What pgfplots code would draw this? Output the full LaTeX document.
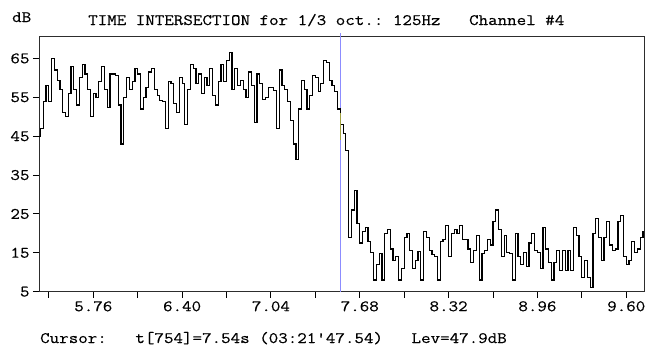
\documentclass[border=0pt]{standalone}
\usepackage{fontspec}
\setmonofont{Latin Modern Mono}[FakeStretch=1.16, FakeBold=0.4]
\usepackage{pgfplots}
\usepackage{pgfplotstable}
\pgfplotsset{compat=1.18}
\definecolor{cursorc}{RGB}{140,140,255}
\definecolor{olivec}{RGB}{160,160,64}
\definecolor{framec}{RGB}{45,45,45}
\newcommand\mono{\ttfamily\fontsize{16}{18}\selectfont}
\pgfplotstableread{
t v
5.37 45
5.38 47
5.40 54
5.42 58
5.44 54
5.46 65
5.48 62
5.50 59.4
5.52 57
5.54 51
5.56 50
5.58 56
5.60 63
5.62 57
5.64 53
5.66 60
5.68 63.5
5.70 61
5.72 57
5.74 50
5.76 56
5.78 55
5.80 59
5.82 63
5.84 57
5.86 52.4
5.88 61
5.90 61
5.92 60.5
5.94 53
5.96 43
5.98 55
6.00 60
6.02 57
6.04 59
6.06 62.5
6.08 61
6.10 52
6.12 55
6.14 57.6
6.16 61.5
6.18 62.5
6.20 57
6.22 55.5
6.24 54.2
6.26 54
6.28 47
6.30 59
6.32 58.5
6.34 53.5
6.36 51
6.38 60
6.40 58.5
6.42 48
6.44 57
6.46 63.5
6.48 62.5
6.50 58.5
6.52 61
6.54 56
6.56 60
6.58 58
6.60 62.5
6.62 55.5
6.64 53
6.66 59
6.68 63.5
6.70 59
6.72 64.5
6.74 66.5
6.76 57
6.78 62.5
6.80 58
6.82 59.4
6.84 57
6.86 55
6.88 61.5
6.90 58
6.92 48.5
6.94 61
6.96 58.5
6.98 54.5
7.00 55
7.02 57.6
7.04 57.6
7.06 56.8
7.08 47
7.10 62
7.12 58
7.14 57
7.16 54
7.18 49
7.20 43
7.22 39
7.24 52
7.26 59.4
7.28 57
7.30 52
7.32 55.5
7.34 60.5
7.36 60
7.38 56.5
7.40 58.6
7.42 64.5
7.44 64
7.46 59.4
7.48 58
7.50 56.5
7.52 52
7.54 47.9
7.56 45.7
7.58 41.3
7.60 19
7.62 26
7.64 31
7.66 22.5
7.68 17.5
7.70 20.5
7.72 21.5
7.74 18
7.76 15
7.78 8
7.80 12
7.82 14.8
7.84 8
7.86 20
7.88 21
7.90 16
7.92 13
7.94 14
7.96 8
7.98 11
8.00 19
8.02 20
8.04 15.6
8.06 11
8.08 13
8.10 15.3
8.12 8
8.14 20.5
8.16 19
8.18 15.6
8.20 14.5
8.22 14
8.24 8
8.26 18
8.28 18.5
8.30 22
8.32 14
8.34 20
8.36 21
8.38 20
8.40 22
8.42 18.5
8.44 18.5
8.46 16
8.48 12.5
8.50 15.6
8.52 19.5
8.54 8
8.56 14.8
8.58 15.6
8.60 18.5
8.62 17
8.64 23
8.66 26
8.68 21
8.70 14
8.72 19.5
8.74 15
8.76 14.8
8.78 8
8.80 20
8.82 14
8.84 12
8.86 15
8.88 11.5
8.90 17.5
8.92 20
8.94 15.5
8.96 15
8.98 11
9.00 21.5
9.02 16
9.04 12.5
9.06 8
9.08 12.5
9.10 15.5
9.12 10.5
9.14 15.5
9.16 10.5
9.18 15.5
9.20 10.5
9.22 21.5
9.24 19.5
9.26 14
9.28 8.6
9.30 13
9.32 8.6
9.34 6
9.36 20
9.38 23.8
9.40 19
9.42 13
9.44 19
9.46 23
9.48 17
9.50 15.6
9.52 16
9.54 23
9.56 24.5
9.58 14
9.60 12
9.62 13
9.64 18
9.66 15
9.68 16
9.70 19
9.72 20.5
}\datatable

\begin{document}
\begin{tikzpicture}[x=1bp,y=1bp]
\useasboundingbox (0,0) rectangle (657,347);
\begin{axis}[
  at={(39bp,55.3bp)}, anchor=south west, scale only axis,
  width=605bp, height=254.7bp,
  xmin=5.369, xmax=9.728, ymin=5, ymax=70.5,
  axis line style={framec, line width=1bp},
  tick style={black, line width=0.9bp},
  tick align=outside, tick pos=left,
  xtick={5.76,6.40,7.04,7.68,8.32,8.96,9.60},
  xticklabels={5.76,6.40,7.04,7.68,8.32,8.96,9.60},
  minor xtick={5.44,6.08,6.72,7.36,8.00,8.64,9.28},
  ytick={5,15,25,35,45,55,65},
  yticklabels={5,15,25,35,45,55,65},
  major tick length=6bp, minor tick length=6bp,
  xticklabel style={font=\mono},
  yticklabel style={font=\mono},
  clip=false,
]
\addplot[cursorc, line width=1bp] coordinates {(7.54,5) (7.54,71.6)};
\addplot[black, line width=1.2bp, const plot] table[x=t, y=v] {\datatable};
\addplot[olivec, line width=1.2bp] coordinates {(7.54,51) (7.54,44)};
\end{axis}
\node[anchor=base west, inner sep=0, font=\mono] at (12,325) {dB};
\node[anchor=base west, inner sep=0, font=\mono] at (88,322) {TIME INTERSECTION for 1/3 oct.: 125Hz\ \ \ Channel \#4};
\node[anchor=base west, inner sep=0, font=\mono] at (40,4) {Cursor:\ \ \ t[754]=7.54s (03:21'47.54)\ \ \ Lev=47.9dB};
\end{tikzpicture}
\end{document}
